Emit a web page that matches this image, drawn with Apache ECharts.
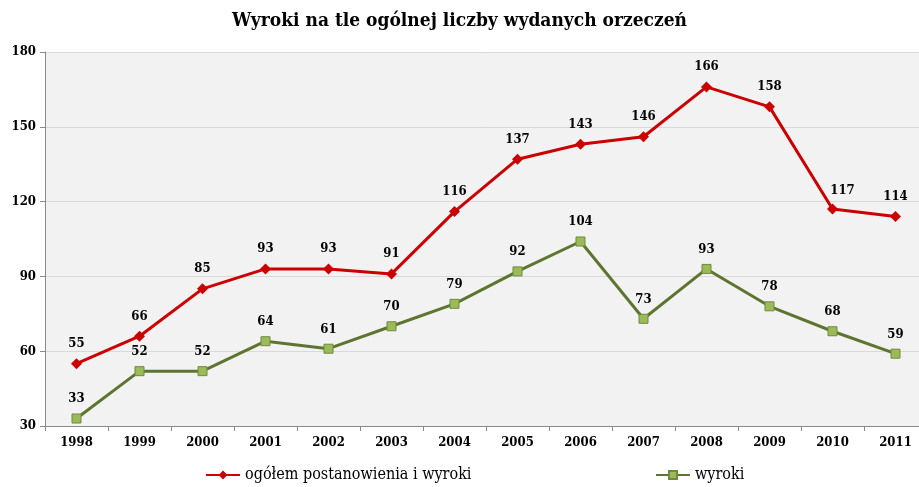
<!DOCTYPE html>
<html>
<head>
<meta charset="utf-8">
<script src="https://cdn.jsdelivr.net/npm/echarts@6/dist/echarts.min.js"></script>
<style>
  html, body { margin: 0; padding: 0; background: #fff; }
  #wykres { width: 919px; height: 487px; }
</style>
</head>
<body>
<div id="wykres"></div>
<script>
// dane
const lata = ['1998', '1999', '2000', '2001', '2002', '2003', '2004', '2005', '2006', '2007', '2008', '2009', '2010', '2011'];
const ogolem = [55, 66, 85, 93, 93, 91, 116, 137, 143, 146, 166, 158, 117, 114];
const wyroki = [33, 52, 52, 64, 61, 70, 79, 92, 104, 73, 93, 78, 68, 59];
const osY = { min: 30, max: 180, interval: 30 };

const czcionka = "'DejaVu Serif Condensed', 'Liberation Serif', serif";

const wykres = echarts.init(document.getElementById('wykres'));

const etykieta = {
  show: true,
  position: 'top',
  distance: 8,
  fontFamily: czcionka,
  fontSize: 13,
  fontWeight: 'bold',
  color: '#000'
};

// etykieta dla 2010 przesunieta lekko w prawo, jak w oryginale
const daneOgolem = ogolem.map((v, i) =>
  lata[i] === '2010' ? { value: v, label: { offset: [10, 2] } } : v
);

const opcje = {
  animation: false,
  title: {
    text: 'Wyroki na tle ogólnej liczby wydanych orzeczeń',
    left: 'center',
    top: 7,
    textStyle: { fontFamily: czcionka, fontSize: 19, fontWeight: 'bold', color: '#000' }
  },
  legend: [
    {
      data: ['ogółem postanowienia i wyroki'],
      left: 200,
      bottom: -1,
      itemWidth: 34,
      itemHeight: 11,
      itemGap: 4,
      textStyle: { fontFamily: czcionka, fontSize: 16, color: '#000' }
    },
    {
      data: ['wyroki'],
      left: 650,
      bottom: -1,
      itemWidth: 34,
      itemHeight: 10,
      textStyle: { fontFamily: czcionka, fontSize: 16, color: '#000' }
    }
  ],
  grid: {
    left: 45,
    top: 52,
    width: 882,
    bottom: 61,
    outerBoundsMode: 'none',
    show: true,
    backgroundColor: '#f2f2f2',
    borderWidth: 0
  },
  xAxis: {
    type: 'category',
    data: lata,
    boundaryGap: true,
    axisLine: { lineStyle: { color: '#898989' } },
    axisTick: { show: true, length: 5, lineStyle: { color: '#898989' } },
    axisLabel: { fontFamily: czcionka, fontSize: 13, fontWeight: 'bold', color: '#000', margin: 10 }
  },
  yAxis: {
    type: 'value',
    min: osY.min,
    max: osY.max,
    interval: osY.interval,
    axisLine: { show: true, lineStyle: { color: '#898989' } },
    axisTick: { show: true, length: 5, lineStyle: { color: '#898989' } },
    axisLabel: { fontFamily: czcionka, fontSize: 13, fontWeight: 'bold', color: '#000', margin: 9 },
    splitLine: { lineStyle: { color: '#d9d9d9' } }
  },
  series: [
    {
      name: 'ogółem postanowienia i wyroki',
      type: 'line',
      data: daneOgolem,
      symbol: 'diamond',
      symbolSize: 11,
      color: '#cc0000',
      lineStyle: { width: 3, color: '#cc0000' },
      itemStyle: { color: '#cc0000' },
      label: etykieta
    },
    {
      name: 'wyroki',
      type: 'line',
      data: wyroki,
      symbol: 'rect',
      symbolSize: 9,
      color: '#5e7530',
      lineStyle: { width: 3, color: '#5e7530' },
      itemStyle: { color: '#9bbb59', borderColor: '#71893f', borderWidth: 1 },
      label: etykieta
    }
  ]
};

wykres.setOption(opcje);
</script>
</body>
</html>
